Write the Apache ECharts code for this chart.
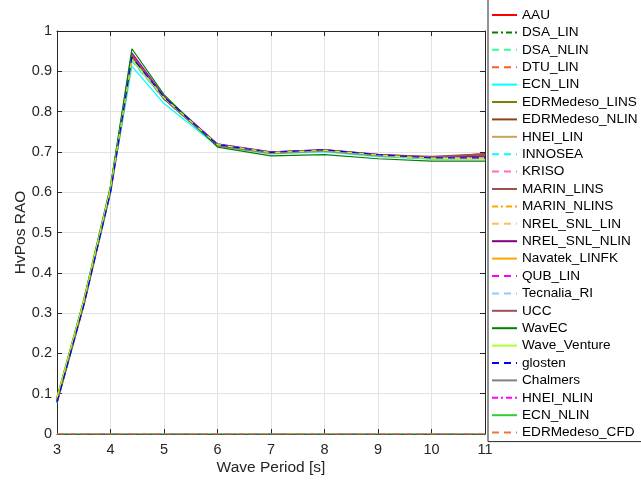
<!DOCTYPE html>
<html>
<head>
<meta charset="utf-8">
<script src="https://cdn.jsdelivr.net/npm/echarts@6/dist/echarts.min.js"></script>
<style>
  html, body { margin: 0; padding: 0; background: #fff; }
  #main { width: 641px; height: 481px; }
</style>
</head>
<body>
<div id="main"></div>
<script>
// wave periods [s]
const periods = [3, 3.5, 4, 4.4, 5, 6, 7, 8, 9, 10, 11];

// HvPos RAO per participant
const AAU            = [0.080, 0.322, 0.605, 0.940, 0.832, 0.716, 0.697, 0.703, 0.691, 0.686, 0.696];
const DSA_LIN        = [0.085, 0.325, 0.607, 0.938, 0.834, 0.716, 0.696, 0.702, 0.690, 0.684, 0.684];
const DSA_NLIN       = [0.085, 0.325, 0.607, 0.936, 0.834, 0.716, 0.696, 0.702, 0.690, 0.684, 0.684];
const DTU_LIN        = [0.082, 0.323, 0.604, 0.935, 0.833, 0.717, 0.697, 0.703, 0.691, 0.685, 0.685];
const ECN_LIN        = [0.076, 0.318, 0.598, 0.912, 0.820, 0.714, 0.695, 0.700, 0.688, 0.682, 0.684];
const EDRMedeso_LINS = [0.083, 0.324, 0.605, 0.937, 0.834, 0.717, 0.697, 0.703, 0.691, 0.685, 0.686];
const EDRMedeso_NLIN = [0.083, 0.324, 0.605, 0.939, 0.835, 0.718, 0.698, 0.704, 0.692, 0.686, 0.690];
const HNEI_LIN       = [0.088, 0.328, 0.608, 0.930, 0.833, 0.717, 0.697, 0.703, 0.691, 0.684, 0.684];
const INNOSEA        = [0.078, 0.320, 0.600, 0.925, 0.830, 0.716, 0.696, 0.702, 0.690, 0.684, 0.685];
const KRISO          = [0.082, 0.323, 0.605, 0.934, 0.833, 0.717, 0.697, 0.703, 0.691, 0.685, 0.686];
const MARIN_LINS     = [0.081, 0.322, 0.604, 0.941, 0.834, 0.717, 0.698, 0.704, 0.692, 0.687, 0.693];
const MARIN_NLINS    = [0.084, 0.324, 0.606, 0.933, 0.833, 0.717, 0.697, 0.703, 0.691, 0.685, 0.685];
const NREL_SNL_LIN   = [0.084, 0.324, 0.606, 0.931, 0.832, 0.717, 0.697, 0.703, 0.691, 0.685, 0.685];
const NREL_SNL_NLIN  = [0.081, 0.323, 0.605, 0.946, 0.838, 0.720, 0.700, 0.706, 0.694, 0.687, 0.688];
const Navatek_LINFK  = [0.084, 0.324, 0.606, 0.932, 0.832, 0.716, 0.697, 0.703, 0.691, 0.685, 0.685];
const QUB_LIN        = [0.082, 0.323, 0.605, 0.942, 0.836, 0.718, 0.698, 0.704, 0.692, 0.686, 0.686];
const Tecnalia_RI    = [0.080, 0.321, 0.602, 0.928, 0.831, 0.716, 0.696, 0.702, 0.690, 0.684, 0.685];
const UCC            = [0.081, 0.322, 0.604, 0.938, 0.833, 0.717, 0.698, 0.704, 0.692, 0.688, 0.694];
const WavEC          = [0.090, 0.333, 0.615, 0.956, 0.842, 0.712, 0.690, 0.693, 0.683, 0.677, 0.677];
const Wave_Venture   = [0.090, 0.330, 0.610, 0.930, 0.834, 0.718, 0.698, 0.704, 0.692, 0.684, 0.684];
const glosten        = [0.078, 0.320, 0.600, 0.935, 0.836, 0.718, 0.699, 0.705, 0.693, 0.685, 0.685];
const Chalmers       = [0, 0, 0, 0, 0, 0, 0, 0, 0, 0, 0];
const HNEI_NLIN      = [0, 0, 0, 0, 0, 0, 0, 0, 0, 0, 0];
const ECN_NLIN       = [0, 0, 0, 0, 0, 0, 0, 0, 0, 0, 0];
const EDRMedeso_CFD  = [0, 0, 0, 0, 0, 0, 0, 0, 0, 0, 0];

const SOLID = 'solid';
const DASH = [7, 5];
const DASHDOT = [6, 3, 2, 3];

// name, values, colour, line type, width
const lines = [
  ['AAU', AAU, '#ff0000', SOLID, 1.2],
  ['DSA_LIN', DSA_LIN, '#008000', DASHDOT, 1.2],
  ['DSA_NLIN', DSA_NLIN, '#33ff99', DASH, 1.2],
  ['DTU_LIN', DTU_LIN, '#ff5a2a', DASH, 1.2],
  ['ECN_LIN', ECN_LIN, '#00ffff', SOLID, 1.2],
  ['EDRMedeso_LINS', EDRMedeso_LINS, '#808000', SOLID, 1.2],
  ['EDRMedeso_NLIN', EDRMedeso_NLIN, '#8b4513', SOLID, 1.2],
  ['HNEI_LIN', HNEI_LIN, '#c9a455', SOLID, 2.2],
  ['INNOSEA', INNOSEA, '#00ffff', DASH, 1.2],
  ['KRISO', KRISO, '#ff6eb4', DASH, 1.2],
  ['MARIN_LINS', MARIN_LINS, '#a0504a', SOLID, 1.2],
  ['MARIN_NLINS', MARIN_NLINS, '#ffa500', DASHDOT, 1.2],
  ['NREL_SNL_LIN', NREL_SNL_LIN, '#ffc04d', DASH, 1.2],
  ['NREL_SNL_NLIN', NREL_SNL_NLIN, '#800080', SOLID, 1.2],
  ['Navatek_LINFK', Navatek_LINFK, '#ffa500', SOLID, 1.2],
  ['QUB_LIN', QUB_LIN, '#ff00ff', DASH, 1.2],
  ['Tecnalia_RI', Tecnalia_RI, '#87cefa', DASH, 1.2],
  ['UCC', UCC, '#a0504f', SOLID, 2.2],
  ['WavEC', WavEC, '#008000', SOLID, 1.2],
  ['Wave_Venture', Wave_Venture, '#adff2f', SOLID, 1.2],
  ['glosten', glosten, '#0000ff', DASH, 1.2],
  ['Chalmers', Chalmers, '#808080', SOLID, 1.2],
  ['HNEI_NLIN', HNEI_NLIN, '#ff00ff', DASHDOT, 1.2],
  ['ECN_NLIN', ECN_NLIN, '#32cd32', SOLID, 1.2],
  ['EDRMedeso_CFD', EDRMedeso_CFD, '#ee7733', DASH, 1.2]
];

const axisColor = '#262626';
const font = 'Liberation Sans, Arial, sans-serif';

const chart = echarts.init(document.getElementById('main'), null, { renderer: 'canvas' });

const series = lines.map(l => ({
  name: l[0],
  type: 'line',
  xAxisIndex: 0,
  yAxisIndex: 0,
  symbol: 'none',
  animation: false,
  color: l[2],
  lineStyle: { color: l[2], type: l[3], width: l[4] },
  data: periods.map((p, i) => [p, l[1][i]])
}));

const tickStyle = { inside: true, length: 5, lineStyle: { color: axisColor } };

chart.setOption({
  animation: false,
  backgroundColor: '#fff',
  textStyle: { fontFamily: font },
  grid: { left: 57, right: 156, top: 31, bottom: 44 },
  legend: {
    orient: 'vertical',
    left: 488,
    top: -4,
    padding: [12, 5, 2, 3],
    itemGap: 3.4,
    itemWidth: 25,
    itemHeight: 10,
    backgroundColor: '#fff',
    borderColor: axisColor,
    borderWidth: 1,
    borderRadius: 0,
    itemStyle: { opacity: 0 },
    textStyle: { fontSize: 13.6, color: '#000', lineHeight: 14, fontFamily: font },
    data: lines.map(l => l[0])
  },
  xAxis: [
    {
      type: 'value', min: 3, max: 11, interval: 1,
      name: 'Wave Period [s]', nameLocation: 'middle', nameGap: 26,
      nameMoveOverlap: false,
      nameTextStyle: { fontSize: 15.5, color: axisColor },
      axisLine: { onZero: false, lineStyle: { color: axisColor } },
      axisTick: tickStyle,
      axisLabel: { fontSize: 14.5, color: axisColor, margin: 8 },
      splitLine: { show: true, lineStyle: { color: '#e3e3e3' } }
    },
    {
      type: 'value', min: 3, max: 11, interval: 1, position: 'top',
      axisLine: { onZero: false, lineStyle: { color: axisColor } },
      axisTick: tickStyle,
      axisLabel: { show: false },
      splitLine: { show: false }
    }
  ],
  yAxis: [
    {
      type: 'value', min: 0, max: 1, interval: 0.1,
      name: 'HvPos RAO', nameLocation: 'middle', nameGap: 28,
      nameMoveOverlap: false,
      nameTextStyle: { fontSize: 15.5, color: axisColor },
      axisLine: { show: true, onZero: false, lineStyle: { color: axisColor } },
      axisTick: tickStyle,
      axisLabel: { fontSize: 14.5, color: axisColor, margin: 5 },
      splitLine: { show: true, lineStyle: { color: '#e3e3e3' } }
    },
    {
      type: 'value', min: 0, max: 1, interval: 0.1, position: 'right',
      axisLine: { show: true, onZero: false, lineStyle: { color: axisColor } },
      axisTick: tickStyle,
      axisLabel: { show: false },
      splitLine: { show: false }
    }
  ],
  series: series
});
</script>
</body>
</html>
